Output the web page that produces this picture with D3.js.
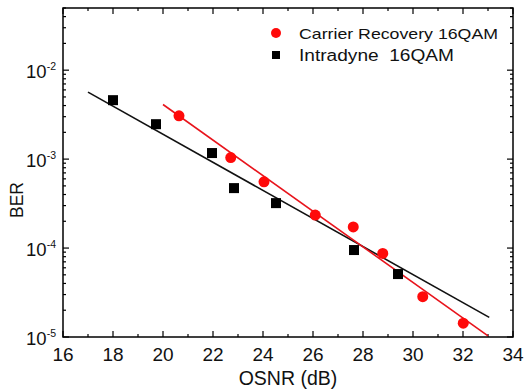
<!DOCTYPE html>
<html><head><meta charset="utf-8">
<script src="https://cdn.jsdelivr.net/npm/d3@7"></script>
<style>body{margin:0;background:#fff}svg{display:block}text{font-family:Arial,"Liberation Sans",sans-serif}</style>
</head><body>
<script>
// Data
const crOSNR = [20.64, 22.71, 24.04, 26.09, 27.61, 28.79, 30.39, 32.01];
const crBER  = [3.07e-3, 1.04e-3, 5.56e-4, 2.35e-4, 1.73e-4, 8.7e-5, 2.84e-5, 1.43e-5];
const idOSNR = [18.0, 19.72, 21.96, 22.84, 24.52, 27.64, 29.4];
const idBER  = [4.6e-3, 2.47e-3, 1.17e-3, 4.72e-4, 3.2e-4, 9.5e-5, 5.1e-5];
const crFitOSNR = [20.0, 33.0];
const crFitBER  = [4.11e-3, 1.03e-5];
const idFitOSNR = [17.0, 33.05];
const idFitBER  = [5.66e-3, 1.66e-5];
const xTicks = [16, 18, 20, 22, 24, 26, 28, 30, 32, 34];
const yTicks = [1e-5, 1e-4, 1e-3, 1e-2];
const yTickExp = ["-5", "-4", "-3", "-2"];
const legendLabels = ["Carrier Recovery 16QAM", "Intradyne  16QAM"];

const W = 524, H = 391;
const L = 63, R = 513, T = 8, B = 337;
const svg = d3.select("body").append("svg").attr("width", W).attr("height", H);
const x = d3.scaleLinear().domain([16, 34]).range([L, R]);
const y = d3.scaleLog().domain([1e-5, 5e-2]).range([B, T]);

// minor ticks
const xMinor = d3.range(17, 34, 2);
const yMinor = [];
for (let e = -5; e <= -2; e++) for (let m = 2; m <= 9; m++) { const v = m * Math.pow(10, e); if (v <= 5e-2) yMinor.push(v); }

const axG = svg.append("g").attr("stroke", "#000").attr("stroke-width", 1.2);
function ticks(vals, len) {
  vals.forEach(v => {
    axG.append("line").attr("x1", x(v)).attr("x2", x(v)).attr("y1", B).attr("y2", B - len);
    axG.append("line").attr("x1", x(v)).attr("x2", x(v)).attr("y1", T).attr("y2", T + len);
  });
}
ticks(xTicks, 6); ticks(xMinor, 3);
function yt(vals, len) {
  vals.forEach(v => {
    axG.append("line").attr("y1", y(v)).attr("y2", y(v)).attr("x1", L).attr("x2", L + len);
    axG.append("line").attr("y1", y(v)).attr("y2", y(v)).attr("x1", R).attr("x2", R - len);
  });
}
yt(yTicks, 6); yt(yMinor, 3);

svg.append("rect").attr("x", L).attr("y", T).attr("width", R - L).attr("height", B - T)
  .attr("fill", "none").attr("stroke", "#000").attr("stroke-width", 1.5);

// tick labels
svg.append("g").selectAll("text").data(xTicks).join("text")
  .attr("x", d => x(d)).attr("y", 361).attr("text-anchor", "middle")
  .attr("font-size", 19).attr("fill", "#111").text(d => d);
const yl = svg.append("g").selectAll("text").data(yTicks).join("text")
  .attr("x", 56).attr("y", d => y(d) + 8).attr("text-anchor", "end")
  .attr("font-size", 18.5).attr("fill", "#111");
yl.append("tspan").text("10");
yl.append("tspan").attr("dy", -8).attr("font-size", 10.5).text((d, i) => yTickExp[i]);

// axis titles
svg.append("text").attr("x", x(25)).attr("y", 385).attr("text-anchor", "middle")
  .attr("font-size", 19.5).attr("fill", "#111").text("OSNR (dB)");
svg.append("text").attr("transform", "translate(23,200) rotate(-90)").attr("text-anchor", "middle")
  .attr("font-size", 17.5).attr("fill", "#111").text("BER");

// clip
svg.append("clipPath").attr("id", "c").append("rect").attr("x", L).attr("y", T).attr("width", R - L).attr("height", B - T);
const plot = svg.append("g").attr("clip-path", "url(#c)");

const line = d3.line().x(d => x(d[0])).y(d => y(d[1]));
plot.append("path").attr("d", line(idFitOSNR.map((v, i) => [v, idFitBER[i]])))
  .attr("stroke", "#111").attr("stroke-width", 1.6).attr("fill", "none");
plot.append("path").attr("d", line(crFitOSNR.map((v, i) => [v, crFitBER[i]])))
  .attr("stroke", "#e8141c").attr("stroke-width", 1.6).attr("fill", "none");

plot.selectAll("rect.sq").data(idOSNR.map((v, i) => [v, idBER[i]])).join("rect")
  .attr("x", d => x(d[0]) - 5).attr("y", d => y(d[1]) - 5).attr("width", 10).attr("height", 10).attr("fill", "#000");
plot.selectAll("circle").data(crOSNR.map((v, i) => [v, crBER[i]])).join("circle")
  .attr("cx", d => x(d[0])).attr("cy", d => y(d[1])).attr("r", 5.5).attr("fill", "#ff0a0a");

// legend
const lg = svg.append("g");
lg.append("circle").attr("cx", 276).attr("cy", 33).attr("r", 5).attr("fill", "#ff0a0a");
lg.append("rect").attr("x", 272).attr("y", 51).attr("width", 8).attr("height", 8).attr("fill", "#000");
lg.append("text").attr("x", 299).attr("y", 39).attr("font-size", 15).attr("fill", "#111")
  .style("white-space", "pre")
  .attr("textLength", 199).attr("lengthAdjust", "spacingAndGlyphs").text(legendLabels[0]);
lg.append("text").attr("x", 299).attr("y", 61).attr("font-size", 16).attr("fill", "#111")
  .style("white-space", "pre")
  .attr("textLength", 155).attr("lengthAdjust", "spacingAndGlyphs").text(legendLabels[1]);
</script>
</body></html>
